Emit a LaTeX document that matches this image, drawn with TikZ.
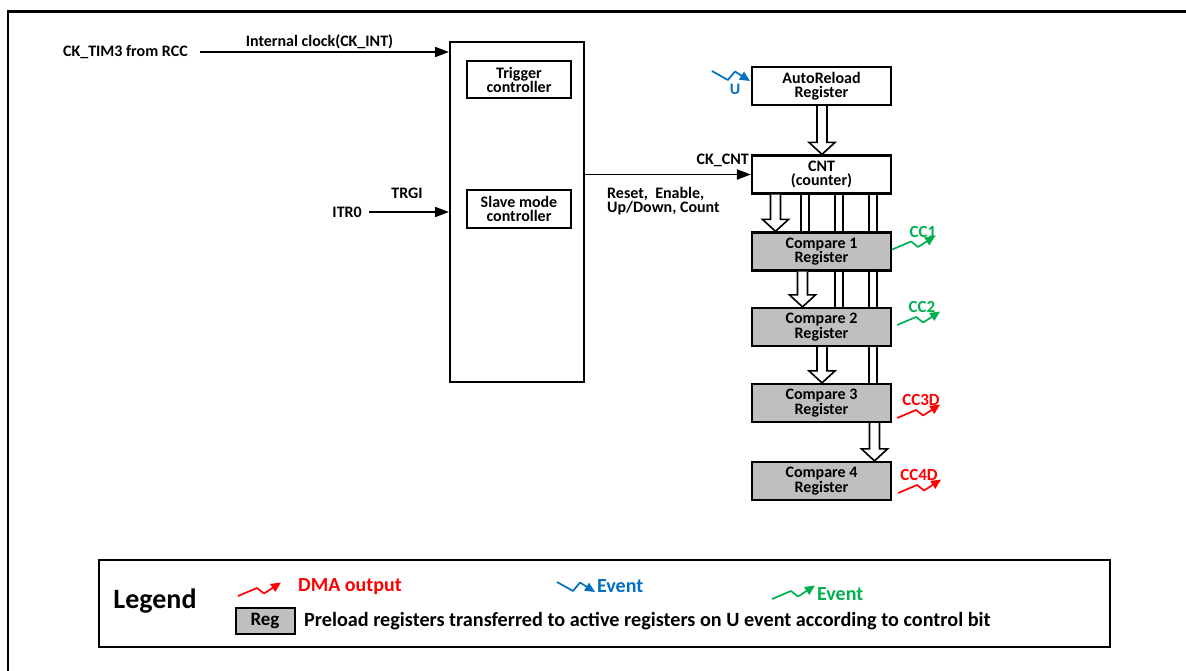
\documentclass[tikz,border=0pt]{standalone}
\usepackage{fontspec}
\setmainfont{Carlito}
\usetikzlibrary{arrows.meta,calc}
\definecolor{evblue}{HTML}{0070C0}
\definecolor{evgreen}{HTML}{00B050}
\definecolor{evred}{HTML}{FF0000}
\definecolor{reggray}{HTML}{BFBFBF}
\newcommand\blk[3]{%
  \coordinate (bs) at ([xshift=#3]#1.south);
  \coordinate (be) at ([xshift=#3]#2.north);
  \draw[line width=1.6pt, fill=white, line join=miter]
    ($(bs)+(-5,0)$) -- ($(be)+(-5,-12)$) -- ($(be)+(-13,-12)$) -- (be)
    -- ($(be)+(13,-12)$) -- ($(be)+(5,-12)$) -- ($(bs)+(5,0)$);}
\newcommand\evup[2]{\draw[ev,#1] (#2) -- ++(19,-8) -- ++(7,5.5) -- ++(17,-11);}
\newcommand\evdown[2]{\draw[ev,#1] (#2) -- ++(16,9) -- ++(7,-8.5) -- ++(15,9.5);}
\begin{document}
\begin{tikzpicture}[x=1pt,y=-1pt,
  base/.style={font=\bfseries\fontsize{16}{14.5}\selectfont},
  lbl/.style={base, inner sep=2pt},
  big/.style={font=\bfseries\fontsize{20}{22}\selectfont, inner sep=2pt},
  cbox/.style={base, draw, line width=2pt, align=center, minimum width=104pt, minimum height=37pt, inner sep=1pt},
  reg/.style={base, draw, line width=2.2pt, fill=white, align=center, minimum width=139pt, minimum height=38pt, inner sep=1pt},
  cmp/.style={reg, fill=reggray},
  arr/.style={line width=1.8pt, -{Triangle[length=14pt,width=10pt]}},
  pipe/.style={double, double distance=6.5pt, line width=1.6pt},
  ev/.style={line width=1.7pt, line join=round, -{Triangle[length=10pt,width=9pt]}},
]
\useasboundingbox (0,0) rectangle (1186,671);
\fill[white] (0,0) rectangle (1186,671);
\draw[line width=2.5pt] (8,673) -- (8,11.5) -- (1188,11.5);

% timer block
\node[draw, line width=2pt, minimum width=134pt, minimum height=339pt] (main) at (517,212) {};
\node[cbox] (trig) at (519,80) {Trigger\\controller};
\node[cbox, minimum height=38pt] (slave) at (519,209) {Slave mode\\controller};

\node[lbl, anchor=east] (ck) at (190,52) {CK\_TIM3 from RCC};
\draw[arr, shorten <=10pt] (ck.east) -- (ck.east -| main.west)
  node[lbl, midway, above=0pt] (int) {Internal clock(CK\_INT)};
\node[lbl, anchor=east] (itr) at (364,212) {ITR0};
\draw[arr, shorten <=5pt] (itr.east) -- (itr.east -| main.west);
\node[lbl] (trgi) at (407,193) {TRGI};

% registers
\node[reg] (ar) at (821.5,86) {AutoReload\\Register};
\node[reg] (cnt) at (821.5,174.5) {CNT\\(counter)};
\node[cmp] (c1) at (821.5,251.5) {Compare 1\\Register};
\node[cmp] (c2) at (821.5,327) {Compare 2\\Register};
\node[cmp] (c3) at (821.5,403) {Compare 3\\Register};
\node[cmp] (c4) at (821.5,481) {Compare 4\\Register};

\draw[arr] (main.east |- cnt.west) -- (cnt.west);
\node[lbl, anchor=east] (ckcnt) at (751,160) {CK\_CNT};
\node[lbl, anchor=west, align=left] (rst) at (605,201) {Reset,\ \ Enable,\\Up/Down, Count};

\blk{ar}{cnt}{0.5pt}
\blk{cnt}{c1}{-46pt}
\draw[pipe] ([xshift=-16.5pt]cnt.south) -- ([xshift=-16.5pt]c1.north);
\draw[pipe] ([xshift=17.5pt]cnt.south) -- ([xshift=17.5pt]c1.north);
\draw[pipe] ([xshift=51.5pt]cnt.south) -- ([xshift=51.5pt]c1.north);
\blk{c1}{c2}{-19pt}
\draw[pipe] ([xshift=17.5pt]c1.south) -- ([xshift=17.5pt]c2.north);
\draw[pipe] ([xshift=51.5pt]c1.south) -- ([xshift=51.5pt]c2.north);
\blk{c2}{c3}{0.5pt}
\draw[pipe] ([xshift=51.5pt]c2.south) -- ([xshift=51.5pt]c3.north);
\blk{c3}{c4}{53pt}

% events
\coordinate (u0) at ($(ar.west)+(-39,-15)$);
\evdown{evblue}{u0}
\node[lbl, text=evblue] (ulbl) at (735,89) {U};
\coordinate (e1) at ($(c1.east)+(0,-2)$);
\evup{evgreen}{e1}
\node[lbl, text=evgreen, font=\bfseries\fontsize{17}{18}\selectfont] (cc1) at (923,232) {CC1};
\coordinate (e2) at ($(c2.east)+(5,-2)$);
\evup{evgreen}{e2}
\node[lbl, text=evgreen, font=\bfseries\fontsize{17}{18}\selectfont] (cc2) at (922,307) {CC2};
\coordinate (e3) at ($(c3.east)+(5,15)$);
\evup{evred}{e3}
\node[lbl, text=evred, font=\bfseries\fontsize{17}{18}\selectfont] (cc3) at (921,400) {CC3D};
\coordinate (e4) at ($(c4.east)+(6,12)$);
\evup{evred}{e4}
\node[lbl, text=evred, font=\bfseries\fontsize{17}{18}\selectfont] (cc4) at (919,475) {CC4D};

% legend
\node[draw, line width=2pt, minimum width=1011pt, minimum height=87pt] (leg) at (604.5,603.5) {};
\node[font=\bfseries\fontsize{28}{30}\selectfont] (legt) at (155,601) {Legend};
\coordinate (lr) at (238,596);
\evup{evred}{lr}
\node[big, anchor=west, text=evred] (dma) at (296,587) {DMA output};
\coordinate (lb) at (557,582);
\evdown{evblue}{lb}
\node[big, anchor=west, text=evblue] (evb) at (595,586) {Event};
\coordinate (lg) at (772,599);
\evup{evgreen}{lg}
\node[big, anchor=west, text=evgreen] (evg) at (815,594) {Event};
\node[draw, line width=2pt, fill=reggray, minimum width=59pt, minimum height=26pt,
  font=\bfseries\fontsize{19}{21}\selectfont, inner sep=1pt] (regk) at (265,621) {Reg};
\node[anchor=west, font=\bfseries\fontsize{20.2}{22}\selectfont, inner sep=2pt] (pre) at (302,621)
  {Preload registers transferred to active registers on U event according to control bit};
\end{tikzpicture}
\end{document}
